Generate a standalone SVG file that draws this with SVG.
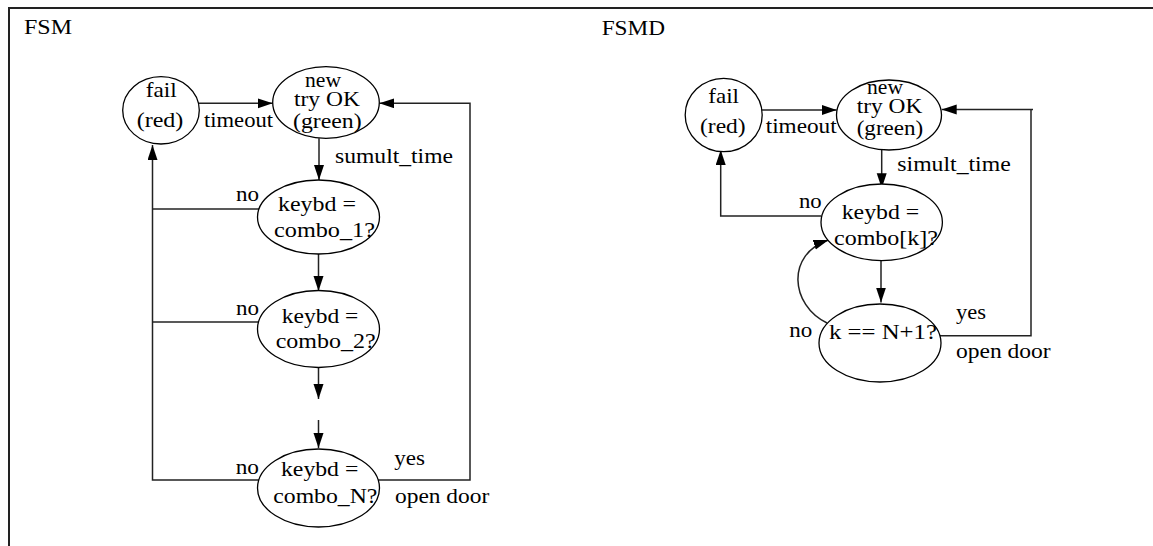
<svg xmlns="http://www.w3.org/2000/svg" width="1153" height="546" viewBox="0 0 1153 546">
  <style>
    .frame { fill: none; stroke: #222; stroke-width: 2; }
    .state { fill: #fff; stroke: #000; stroke-width: 1.3; }
    .wire { fill: none; stroke: #222; stroke-width: 1.5; }
    .arr { marker-end: url(#head); }
    text { font-family: "Liberation Serif", "Times New Roman", serif; font-size: 21px; fill: #000; }
    .title { font-size: 20px; }
  </style>
  <defs>
    <marker id="head" markerUnits="userSpaceOnUse" markerWidth="16" markerHeight="11" refX="15" refY="5" orient="auto">
      <path d="M0,0 L15,5 L0,10 z" fill="#000"/>
    </marker>
  </defs>
  <rect width="1153" height="546" fill="#fff"/>
  <path class="frame" d="M9,546 V8 H1153"/>

  <!-- left panel: plain state machine -->
  <text class="title" x="24" y="34" textLength="48" lengthAdjust="spacingAndGlyphs">FSM</text>

  <g id="connectors-fsm">
    <path class="wire arr" d="M199,103.3 H272.7"/>
    <path class="wire arr" d="M378.2,480 H470 V103.3 H379.3"/>
    <path class="wire arr" d="M319,138.3 V180"/>
    <path class="wire arr" d="M318.5,254 V291"/>
    <path class="wire arr" d="M318.5,367.7 V399"/>
    <path class="wire arr" d="M318.5,420 V448"/>
    <path class="wire arr" d="M258.8,480 H152.5 V145"/>
    <path class="wire" d="M259,209 H152.5"/>
    <path class="wire" d="M258.5,322 H152.5"/>
    <text x="204" y="127" textLength="69" lengthAdjust="spacingAndGlyphs">timeout</text>
    <text x="335" y="163" textLength="118" lengthAdjust="spacingAndGlyphs">sumult_time</text>
    <text x="236" y="200.7" textLength="23" lengthAdjust="spacingAndGlyphs">no</text>
    <text x="236" y="315" textLength="23" lengthAdjust="spacingAndGlyphs">no</text>
    <text x="235.7" y="474" textLength="23.3" lengthAdjust="spacingAndGlyphs">no</text>
    <text x="394.3" y="465" textLength="30.7" lengthAdjust="spacingAndGlyphs">yes</text>
    <text x="395" y="502.7" textLength="94.3" lengthAdjust="spacingAndGlyphs">open door</text>
  </g>

  <g id="fsm-fail">
    <ellipse class="state" cx="161" cy="110.3" rx="38.3" ry="33.7"/>
    <text x="145.7" y="97" textLength="31" lengthAdjust="spacingAndGlyphs">fail</text>
    <text x="136.7" y="126.5" textLength="46.7" lengthAdjust="spacingAndGlyphs">(red)</text>
  </g>
  <g id="fsm-new-try">
    <ellipse class="state" cx="326" cy="102.5" rx="53.3" ry="35.8"/>
    <text x="305" y="86.5" textLength="36" lengthAdjust="spacingAndGlyphs">new</text>
    <text x="294" y="106" textLength="66" lengthAdjust="spacingAndGlyphs">try OK</text>
    <text x="293" y="128" textLength="68.7" lengthAdjust="spacingAndGlyphs">(green)</text>
  </g>
  <g id="fsm-combo-1">
    <ellipse class="state" cx="318.5" cy="217" rx="61" ry="37"/>
    <text x="278" y="211" textLength="78" lengthAdjust="spacingAndGlyphs">keybd =</text>
    <text x="274" y="236.5" textLength="101" lengthAdjust="spacingAndGlyphs">combo_1?</text>
  </g>
  <g id="fsm-combo-2">
    <ellipse class="state" cx="318.5" cy="329" rx="61" ry="38.5"/>
    <text x="281.7" y="322.5" textLength="76.6" lengthAdjust="spacingAndGlyphs">keybd =</text>
    <text x="275.7" y="347.5" textLength="100" lengthAdjust="spacingAndGlyphs">combo_2?</text>
  </g>
  <g id="fsm-combo-n">
    <ellipse class="state" cx="318.5" cy="488" rx="61" ry="39"/>
    <text x="281" y="476" textLength="77.3" lengthAdjust="spacingAndGlyphs">keybd =</text>
    <text x="273.3" y="502.7" textLength="104" lengthAdjust="spacingAndGlyphs">combo_N?</text>
  </g>

  <!-- right panel: state machine with datapath counter -->
  <text class="title" x="601.7" y="35" textLength="63.3" lengthAdjust="spacingAndGlyphs">FSMD</text>

  <g id="connectors-fsmd">
    <path class="wire arr" d="M761,110 H836.7"/>
    <path class="wire" d="M939,335.7 H1031 V109.5"/>
    <path class="wire arr" d="M1033,109.5 H941.7"/>
    <path class="wire arr" d="M881.7,150 V188.3"/>
    <path class="wire arr" d="M821,216 H720.7 V150"/>
    <path class="wire arr" d="M881,260.7 V302.5"/>
    <path class="wire arr" d="M827,323 C 790,305 786,254 828.5,240"/>
    <text x="765.7" y="133.3" textLength="71" lengthAdjust="spacingAndGlyphs">timeout</text>
    <text x="897.3" y="171" textLength="113.4" lengthAdjust="spacingAndGlyphs">simult_time</text>
    <text x="799" y="208" textLength="22.7" lengthAdjust="spacingAndGlyphs">no</text>
    <text x="789.3" y="336.7" textLength="23" lengthAdjust="spacingAndGlyphs">no</text>
    <text x="956" y="319" textLength="30" lengthAdjust="spacingAndGlyphs">yes</text>
    <text x="956" y="358.3" textLength="94.7" lengthAdjust="spacingAndGlyphs">open door</text>
  </g>

  <g id="fsmd-fail">
    <ellipse class="state" cx="723.7" cy="115" rx="38.5" ry="36.7"/>
    <text x="708.3" y="103.3" textLength="30.7" lengthAdjust="spacingAndGlyphs">fail</text>
    <text x="700" y="133" textLength="45.7" lengthAdjust="spacingAndGlyphs">(red)</text>
  </g>
  <g id="fsmd-new-try">
    <ellipse class="state" cx="889" cy="115" rx="52.5" ry="35"/>
    <text x="867" y="94" textLength="36" lengthAdjust="spacingAndGlyphs">new</text>
    <text x="856.7" y="113.3" textLength="65.6" lengthAdjust="spacingAndGlyphs">try OK</text>
    <text x="856.7" y="134.5" textLength="66.6" lengthAdjust="spacingAndGlyphs">(green)</text>
  </g>
  <g id="fsmd-combo-k">
    <ellipse class="state" cx="881.7" cy="222.3" rx="60.7" ry="38.3"/>
    <text x="841.7" y="219.3" textLength="77.6" lengthAdjust="spacingAndGlyphs">keybd =</text>
    <text x="834" y="245" textLength="104" lengthAdjust="spacingAndGlyphs">combo[k]?</text>
  </g>
  <g id="fsmd-count-check">
    <ellipse class="state" cx="880" cy="343" rx="61" ry="39"/>
    <text x="829" y="339.3" textLength="108" lengthAdjust="spacingAndGlyphs">k == N+1?</text>
  </g>
</svg>
